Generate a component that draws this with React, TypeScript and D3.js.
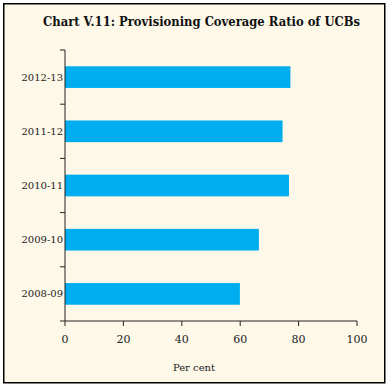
import React from "react";
import * as d3 from "d3";

const categories = ["2012-13", "2011-12", "2010-11", "2009-10", "2008-09"];
const values = [77.2, 74.5, 76.7, 66.4, 59.9];
const xTicks = [0, 20, 40, 60, 80, 100];
const title = "Chart V.11: Provisioning Coverage Ratio of UCBs";
const xLabel = "Per cent";

const W = 391;
const H = 389;
const left = 65;
const right = 357;
const top = 50;
const bottom = 321;

export default function App() {
  const x = d3.scaleLinear().domain([0, 100]).range([left, right]);
  const y = d3.scaleBand().domain(categories).range([top, bottom]).paddingInner(0.6).paddingOuter(0.3);
  const band = (bottom - top) / categories.length;
  const boundaries = d3.range(categories.length + 1).map((i) => top + i * band);
  const font = "'DejaVu Serif', serif";
  return (
    <svg width={W} height={H} style={{ position: "absolute", left: 0, top: 0 }}>
      <rect x={0} y={0} width={W} height={H} fill="#ffffff" />
      <rect x={3.75} y={3.75} width={381} height={379} fill="#fdf8e8" stroke="#000" strokeWidth={1.5} />
      <text x={43} y={26} textLength={317} lengthAdjust="spacingAndGlyphs" fontFamily={font} fontWeight="bold" fontSize={12.3} fill="#111">
        {title}
      </text>
      {categories.map((c, i) => (
        <rect key={c} x={x(0)} y={y(c)} width={x(values[i]) - x(0)} height={y.bandwidth()} fill="#00aeef" />
      ))}
      <line x1={x(0)} x2={x(0)} y1={top} y2={bottom} stroke="#222" strokeWidth={1} />
      {boundaries.map((b, i) => (
        <line key={i} x1={x(0) - 5} x2={x(0)} y1={b} y2={b} stroke="#222" strokeWidth={1} />
      ))}
      {categories.map((c) => (
        <text key={c} x={x(0) - 2} y={(y(c) as number) + y.bandwidth() / 2} dy="0.35em" textAnchor="end" fontFamily={font} fontSize={10} fill="#222">
          {c}
        </text>
      ))}
      <line x1={x(0)} x2={x(100)} y1={bottom} y2={bottom} stroke="#222" strokeWidth={1} />
      {xTicks.map((t) => (
        <g key={t}>
          <line x1={x(t)} x2={x(t)} y1={bottom} y2={bottom + 5} stroke="#222" strokeWidth={1} />
          <text x={x(t)} y={343} textAnchor="middle" fontFamily={font} fontSize={11} fill="#222">
            {t}
          </text>
        </g>
      ))}
      <text x={194} y={371} textAnchor="middle" fontFamily={font} fontSize={10} fill="#222">
        {xLabel}
      </text>
    </svg>
  );
}
